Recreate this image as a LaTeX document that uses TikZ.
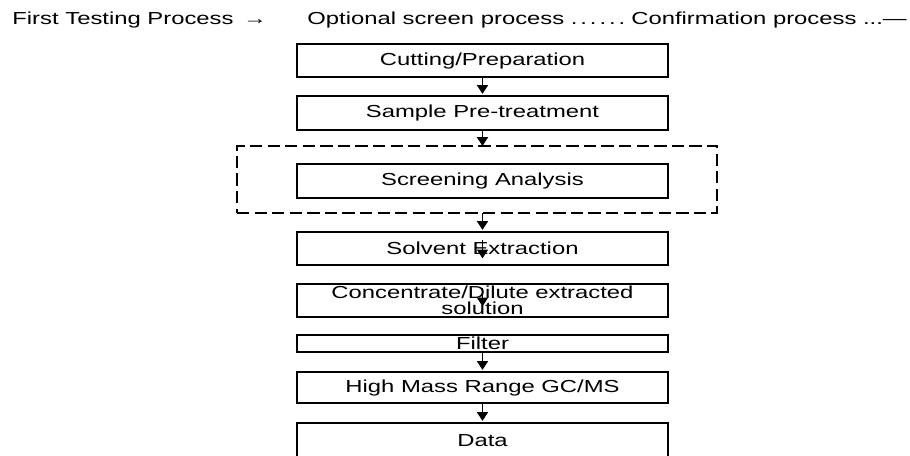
\documentclass[tikz,border=0pt]{standalone}
\usepackage{fontspec}
\usetikzlibrary{positioning,arrows.meta,fit}
\newfontfamily\flowfont[FakeStretch=1.37]{Liberation Sans}

\begin{document}
\begin{tikzpicture}[
node distance=3.8mm,
box/.style={rectangle,draw=black,line width=0.9pt,fill=white,inner sep=0pt,outer sep=0pt,
minimum width=7.42cm,minimum height=6.6mm,align=center,
font=\flowfont\fontsize{9.9pt}{9.3pt}\selectfont},
optbox/.style={rectangle,draw=black,line width=0.9pt,dash pattern=on 7pt off 3pt,inner sep=0pt,outer sep=0pt},
head/.style={anchor=base west,inner sep=0pt,font=\flowfont\fontsize{9.9pt}{11pt}\selectfont},
arrow/.style={-{Triangle[length=5pt,width=6.2pt]},line width=1pt,draw=black,shorten >=1.2pt}
]
\useasboundingbox (0,0) rectangle (18.2,-9.12);
% header line
\node[head] (first) at (0.24,-0.48) {First Testing Process\, →};
\node[head] (optional) at (6.14,-0.48) {Optional screen process .\,.\,.\,.\,.\,.};
\node[head] (confirm) at (12.62,-0.48) {Confirmation process ...—};
% flow
\node[box] (cut) at (9.65,-1.21) {Cutting/Preparation};
\node[box,minimum height=6.8mm,below=of cut] (sample) {Sample Pre-treatment};
\node[box,minimum height=6.8mm,below=6.8mm of sample] (scr) {Screening Analysis};
\coordinate (o1) at ([xshift=-1.2cm,yshift=0.36cm]scr.north west);
\coordinate (o2) at ([xshift=0.98cm,yshift=-0.3cm]scr.south east);
\node[optbox,fit=(o1)(o2)] (opt) {};
\node[box,below=6.8mm of scr] (sol) {Solvent Extraction};
\node[box,below=of sol] (con) {Concentrate/Dilute extracted\\solution};
\node[box,minimum height=3.4mm,below=3.6mm of con] (fil) {Filter};
\node[box,minimum height=6.2mm,below=4mm of fil] (hms) {High Mass Range GC/MS};
\node[box,minimum height=7mm,below=4mm of hms] (dat) {Data};
\draw[arrow] (cut)--(sample);
\draw[arrow,shorten >=0pt] (sample.south)--(sample.south |- opt.north);
\draw[arrow] (sol.north |- opt.south)--(sol);
\draw[arrow] ([yshift=0.5cm]sol.south)--([yshift=0.47cm]con.north);
\draw[arrow] ([yshift=0.58cm]con.south)--([yshift=0.53cm]fil.north);
\draw[arrow] (fil)--(hms); \draw[arrow] (hms)--(dat);
\end{tikzpicture}
\end{document}
